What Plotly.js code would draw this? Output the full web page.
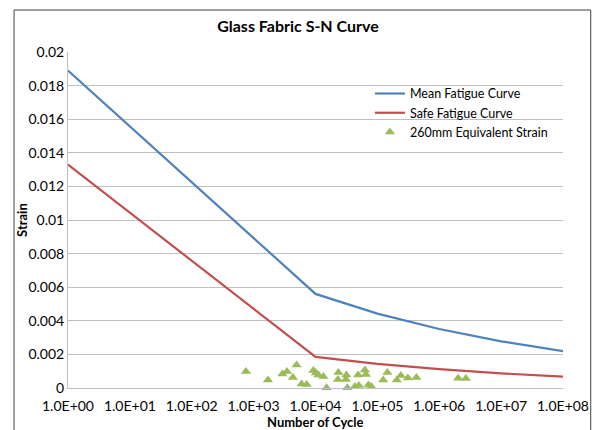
<!DOCTYPE html>
<html>
<head>
<meta charset="utf-8">
<script src="https://cdn.plot.ly/plotly-3.0.1.min.js"></script>
<style>html,body{margin:0;padding:0;background:#fff;}#chart{width:596px;height:430px;}</style>
</head>
<body>
<div id="chart"></div>
<script>
// S-N curves, read at each decade of cycles
const cycles = [1, 1e1, 1e2, 1e3, 1e4, 1e5, 1e6, 1e7, 1e8];
const meanStrain = [0.0189, 0.01557, 0.01224, 0.00892, 0.0056, 0.00443, 0.00351, 0.00278, 0.0022];
const safeStrain = [0.0133, 0.01044, 0.00758, 0.00472, 0.00185, 0.00144, 0.00112, 0.00087, 0.00068];

// 260mm equivalent strain points
const eqCycles = [751, 1702, 2918, 3452, 4315, 4954, 5960, 7180, 9250, 10150, 11140, 13420, 15100,
  23440, 23010, 31550, 30980, 32750, 43340, 48960, 50220, 62830, 65220, 71570, 79980,
  124100, 145100, 206500, 239900, 311000, 426600, 2018000, 2691000];
const eqStrain = [0.00098, 0.00048, 0.00083, 0.00098, 0.00063, 0.00137, 0.00024, 0.00021, 0.00104, 0.00089, 0.00077, 0.00068, 0.00002,
  0.00092, 0.00051, 0.00077, 0.00051, 0.00002, 0.00009, 0.00077, 0.00015, 0.00107, 0.00080, 0.00018, 0.00009,
  0.00048, 0.00092, 0.00048, 0.00074, 0.00060, 0.00062, 0.00058, 0.00057];

const xTickVals = [1, 1e1, 1e2, 1e3, 1e4, 1e5, 1e6, 1e7, 1e8];
const xTickText = ['1.0E+00','1.0E+01','1.0E+02','1.0E+03','1.0E+04','1.0E+05','1.0E+06','1.0E+07','1.0E+08'];
const yTickVals = [0, 0.002, 0.004, 0.006, 0.008, 0.01, 0.012, 0.014, 0.016, 0.018, 0.02];
const yTickText = ['0','0.002','0.004','0.006','0.008','0.01','0.012','0.014','0.016','0.018','0.02'];

const FONT = 'Lato, "Open Sans", sans-serif';

const traces = [
  {x: cycles, y: meanStrain, type: 'scatter', mode: 'lines', name: 'Mean Fatigue Curve',
   line: {color: '#4F81BD', width: 2.2}},
  {x: cycles, y: safeStrain, type: 'scatter', mode: 'lines', name: 'Safe Fatigue Curve',
   line: {color: '#C0504D', width: 2.2}},
  {x: eqCycles, y: eqStrain, type: 'scatter', mode: 'markers', name: '260mm Equivalent Strain',
   marker: {symbol: 'triangle-up', size: 9, color: '#9BBB59'}, cliponaxis: false}
];

const layout = {
  width: 596, height: 430,
  margin: {l: 68, r: 33, t: 52, b: 42},
  paper_bgcolor: '#ffffff', plot_bgcolor: '#ffffff',
  font: {family: FONT, size: 14, color: '#000'},
  title: {text: '<b>Glass Fabric S-N Curve</b>', font: {family: FONT, size: 16, color: '#000'},
          x: 0.5, xanchor: 'center', y: 0.938, yanchor: 'middle'},
  showlegend: true,
  legend: {x: 0.61, y: 0.92, xanchor: 'left', yanchor: 'top', bgcolor: 'rgba(0,0,0,0)',
           font: {family: FONT, size: 12.5, color: '#000'}, tracegroupgap: 0, itemwidth: 30},
  xaxis: {type: 'log', range: [0, 8], tickvals: xTickVals, ticktext: xTickText,
          showgrid: false, zeroline: false, showline: true, linecolor: '#bfbfbf', linewidth: 1,
          ticks: '', ticklabelstandoff: 5, tickfont: {family: FONT, size: 14, color: '#000'}},
  yaxis: {range: [0, 0.02], tickvals: yTickVals, ticktext: yTickText,
          showgrid: true, gridcolor: '#bfbfbf', gridwidth: 1, zeroline: false,
          showline: true, linecolor: '#bfbfbf', linewidth: 1, ticks: '',
          tickfont: {family: FONT, size: 14, color: '#000'}},
  annotations: [
    {text: '<b>Strain</b>', xref: 'paper', yref: 'paper', x: -0.093, y: 0.5, textangle: -90,
     showarrow: false, font: {family: FONT, size: 13, color: '#000'}, xanchor: 'center', yanchor: 'middle'},
    {text: '<b>Number of Cycle</b>', xref: 'paper', yref: 'paper', x: 0.5, y: -0.1,
     showarrow: false, font: {family: FONT, size: 13, color: '#000'}, xanchor: 'center', yanchor: 'middle'}
  ],
  shapes: [
    {type: 'rect', xref: 'paper', yref: 'paper', x0: -0.109, x1: 1.056, y0: -0.2, y1: 1.125,
     line: {color: '#404040', width: 1}, fillcolor: 'rgba(0,0,0,0)', layer: 'above'}
  ]
};

Plotly.newPlot('chart', traces, layout, {displayModeBar: false, staticPlot: true});
</script>
</body>
</html>
